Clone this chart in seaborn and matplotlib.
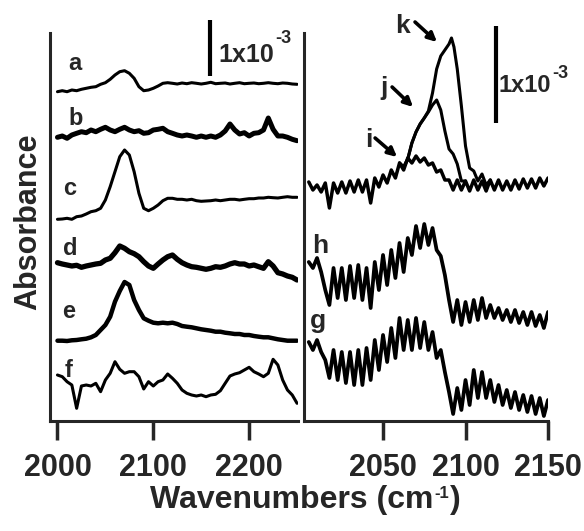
import numpy as np
import matplotlib
matplotlib.use("Agg")
import matplotlib.pyplot as plt
import seaborn as sns

# ---- left panel: spectra a-f, 5 cm-1 grid, heights in plot units ----
left_wn = np.arange(2000, 2251, 5)
a_y = [329.3, 330.3, 329.3, 331, 330.3, 331.7, 332.7, 333.7, 334.3, 336.7,
       338.3, 341.7, 346, 349.3, 350.3, 347.7, 342.7, 334.3, 330.3, 331,
       332.7, 335, 337.7, 338.3, 337.7, 337, 338, 337.3, 338.3, 337.7,
       337, 337.7, 338.7, 337.3, 337.7, 338, 337, 337.7, 338.3, 337.3,
       337.7, 338, 337.3, 337.7, 338.3, 337.7, 337.3, 338, 337.7, 337, 336.7]
b_y = [283.7, 285, 282.7, 286, 287.7, 289.3, 288.3, 291, 289.3, 291.7,
       293.7, 291, 289.3, 291.7, 293.7, 291, 289.3, 290.3, 287.7, 288.3,
       291, 291.7, 292.7, 289.3, 287.7, 286, 285, 286, 285, 283.7,
       285, 283.7, 285, 283.7, 286, 290, 297, 291, 287, 288.3,
       285, 287.7, 288.3, 291, 303, 291.7, 285, 285, 283.7, 281.7, 280.3]
c_y = [201.7, 202, 202.7, 201.7, 204.3, 205, 207, 209.3, 210.3, 212.7,
       221, 234.3, 249.3, 264.3, 271, 266, 249.3, 227.7, 212.7, 210.3,
       212.7, 216, 220.3, 222.7, 222.7, 221.7, 221.7, 221, 221.7, 220.3,
       219.7, 220, 220.3, 221, 220.3, 221, 221.7, 221.7, 221, 221.7,
       222.3, 222.3, 223, 223, 223.7, 223.3, 223, 223.7, 224.3, 223.7, 223.7]
d_y = [158.3, 157, 156, 155, 155.7, 153.7, 155, 156, 157, 157.7,
       161, 162.7, 168.3, 175, 172.7, 169.3, 167.3, 164.3, 159.3, 155,
       152.7, 157, 161, 164.3, 166, 161.7, 158.3, 156, 154.3, 153.7,
       152.7, 151.7, 152.7, 154.3, 153.7, 155, 157, 158.3, 157, 157,
       155, 156, 154.3, 152.7, 159.3, 155, 148.3, 147, 145, 143.7, 141]
e_y = [80.3, 80.3, 80, 80.7, 81, 81.7, 82.3, 83.7, 86, 91,
       96, 104.3, 119.3, 130, 139, 136, 121, 111, 102.7, 100.3,
       98.3, 97.7, 98.3, 97.7, 98.3, 97, 95, 94.3, 93.7, 92.7,
       91.7, 91, 90.3, 89.3, 89.3, 88.3, 87.7, 87, 87, 86,
       86, 85, 84.3, 83.7, 83.7, 82.7, 81.7, 81, 80.3, 80.3, 80.3]
f_y = [46, 44.3, 39.3, 36, 12.7, 35, 36, 35, 37.7, 29.3,
       41, 47.7, 59.3, 51.7, 47.7, 49.3, 49.3, 44.3, 32, 39.3,
       35, 39.3, 41, 47, 42.7, 37.7, 31, 27.7, 26, 25,
       26, 24.3, 26, 26.7, 30.3, 37.7, 45, 47, 48.3, 51,
       53.7, 49.3, 47, 44.3, 47.7, 61.7, 56, 41, 31, 26, 17.7]

# ---- right panel: spectra g-k, 2.5 cm-1 grid ----
right_wn = np.arange(2005, 2150.1, 2.5)
g_y = [79, 71, 81, 69, 61, 43, 71, 41, 69, 38, 69, 36, 71, 36, 73, 41, 81, 51, 86,
       59, 93, 63, 103, 71, 101, 71, 103, 73, 99, 71, 89, 63, 71, 49, 29, 7, 33, 11, 41,
       16, 51, 23, 49, 23, 41, 19, 36, 16, 31, 13, 29, 11, 26, 9, 25, 7, 23, 5, 21]
h_y = [159, 153, 163, 149, 131, 116, 153, 123, 153, 121, 155, 123, 156, 121, 153, 113, 159, 131, 166,
       136, 171, 143, 178, 149, 183, 166, 195, 173, 197, 176, 193, 171, 165, 146, 121, 99, 121, 96, 119,
       99, 121, 101, 123, 103, 116, 103, 113, 101, 111, 99, 111, 98, 109, 96, 109, 95, 106, 93, 109]
i_y = [239, 231, 236, 229, 238, 213, 238, 228, 239, 228, 240, 229, 241, 229, 241, 218, 243, 234, 246,
       238, 251, 243, 258, 251, 263, 258, 265, 259, 263, 256, 258, 249, 251, 241, 241, 231, 241, 231, 240,
       230, 241, 231, 240, 230, 241, 231, 241, 231, 240, 231, 241, 232, 242, 233, 242, 233, 243, 235, 243]
j_wn = [2060, 2062.5, 2065, 2067.5, 2070, 2072.5, 2075, 2077.5, 2080, 2082.5,
        2085, 2087.5, 2090, 2092.5, 2095, 2097.5, 2100]
j_y = [258, 254, 262, 278, 289, 297, 303, 309, 316, 321,
       311, 290, 272, 267, 257, 240, 240]
k_wn = [2060, 2062.5, 2065, 2067.5, 2070, 2072.5, 2075, 2077.5, 2080, 2082.5,
        2085, 2087.5, 2090, 2091.5, 2093, 2095, 2097.5, 2100, 2102.5, 2105,
        2107.5, 2110, 2112.5, 2115]
k_y = [258, 254, 262, 278, 289, 297, 303, 310, 328, 352,
       365, 371, 377, 383, 374, 352, 315, 275, 253, 250,
       240, 247, 236, 241]

sns.set_style("ticks")
plt.rcParams["font.family"] = ["Liberation Sans", "DejaVu Sans"]
plt.rcParams["font.weight"] = "bold"

fig = plt.figure(figsize=(5.84, 5.31), dpi=100)
ax1 = fig.add_axes([50 / 584, 110 / 531, 248 / 584, 388 / 531])
ax2 = fig.add_axes([304 / 584, 110 / 531, 244 / 584, 388 / 531])

left_curves = [(a_y, 2.2), (b_y, 3.6), (c_y, 2.2), (d_y, 3.8), (e_y, 3.2), (f_y, 2.2)]
for ys, lw in left_curves:
    sns.lineplot(x=left_wn, y=ys, ax=ax1, color="black", linewidth=lw,
                 estimator=None, solid_joinstyle="round")

right_curves = [(right_wn, g_y, 2.7), (right_wn, h_y, 2.7), (right_wn, i_y, 2.5),
                (j_wn, j_y, 2.2), (k_wn, k_y, 2.2)]
for xs, ys, lw in right_curves:
    sns.lineplot(x=xs, y=ys, ax=ax2, color="black", linewidth=lw,
                 estimator=None, solid_joinstyle="round")

ax1.set_xlim(1992.2, 2251)
ax2.set_xlim(2002.1, 2150)
for ax in (ax1, ax2):
    ax.set_ylim(0, 388)
    ax.set_yticks([])
    ax.set_xlabel("")
    ax.set_ylabel("")
    ax.tick_params(axis="x", direction="out", length=14, width=2.5, pad=9,
                   labelsize=22)
    for side in ("left", "bottom"):
        ax.spines[side].set_linewidth(2.2)
sns.despine(fig=fig)
ax1.set_xticks([2000, 2100, 2200])
ax2.set_xticks([2050, 2100, 2150])

# curve letters
for lab, x, y in [("a", 2011, 351), ("b", 2011, 296), ("c", 2005.7, 226),
                  ("d", 2005.7, 166), ("e", 2004.7, 103), ("f", 2007.8, 44)]:
    ax1.text(x, y, lab, fontsize=17, ha="left", va="baseline")
for lab, x, y in [("h", 2007, 168), ("g", 2005.8, 93), ("i", 2039.1, 274),
                  ("j", 2048.2, 326), ("k", 2057.3, 388)]:
    ax2.text(x, y, lab, fontsize=19, ha="left", va="baseline")

# arrows for i, j, k
for tail, head in [((2045.2, 283), (2058.5, 264)), ((2055.5, 334), (2068.2, 314)),
                   ((2069.4, 399), (2082.7, 379))]:
    ax2.annotate("", xy=head, xytext=tail, annotation_clip=False,
                 arrowprops=dict(arrowstyle="-|>", lw=2.6, color="black",
                                 mutation_scale=13, shrinkA=0, shrinkB=0))

# scale bars
ax1.plot([2159.2, 2159.2], [345, 401], color="black", lw=3, clip_on=False,
         solid_capstyle="butt")
ax2.plot([2118.5, 2118.5], [298, 395], color="black", lw=3, clip_on=False,
         solid_capstyle="butt")

fig.canvas.draw()
renderer = fig.canvas.get_renderer()


def sup_text(x_px, base_px, main, sup, size, sup_size, rise):
    """main text at pixel position (from top-left), superscript right after it"""
    t = fig.text(x_px / 584, 1 - base_px / 531, main, fontsize=size,
                 ha="left", va="baseline")
    bb = t.get_window_extent(renderer)
    s = fig.text((bb.x1 + 1) / 584, 1 - (base_px - rise) / 531, sup,
                 fontsize=sup_size, ha="left", va="baseline")
    return s.get_window_extent(renderer)


sup_text(218, 62, "1x10", "-3", 18, 13, 19)
sup_text(499, 92, "1x10", "-3", 17, 13, 14)
bb = sup_text(150, 508, "Wavenumbers (cm", "-1", 23, 12, 10.5)
fig.text((bb.x1 + 1) / 584, 1 - 508 / 531, ")", fontsize=23, ha="left",
         va="baseline")

fig.text(28.5 / 584, 1 - 222 / 531, "Absorbance", fontsize=22, rotation=90,
         ha="center", va="center")

fig.savefig("out.png", dpi=100)
